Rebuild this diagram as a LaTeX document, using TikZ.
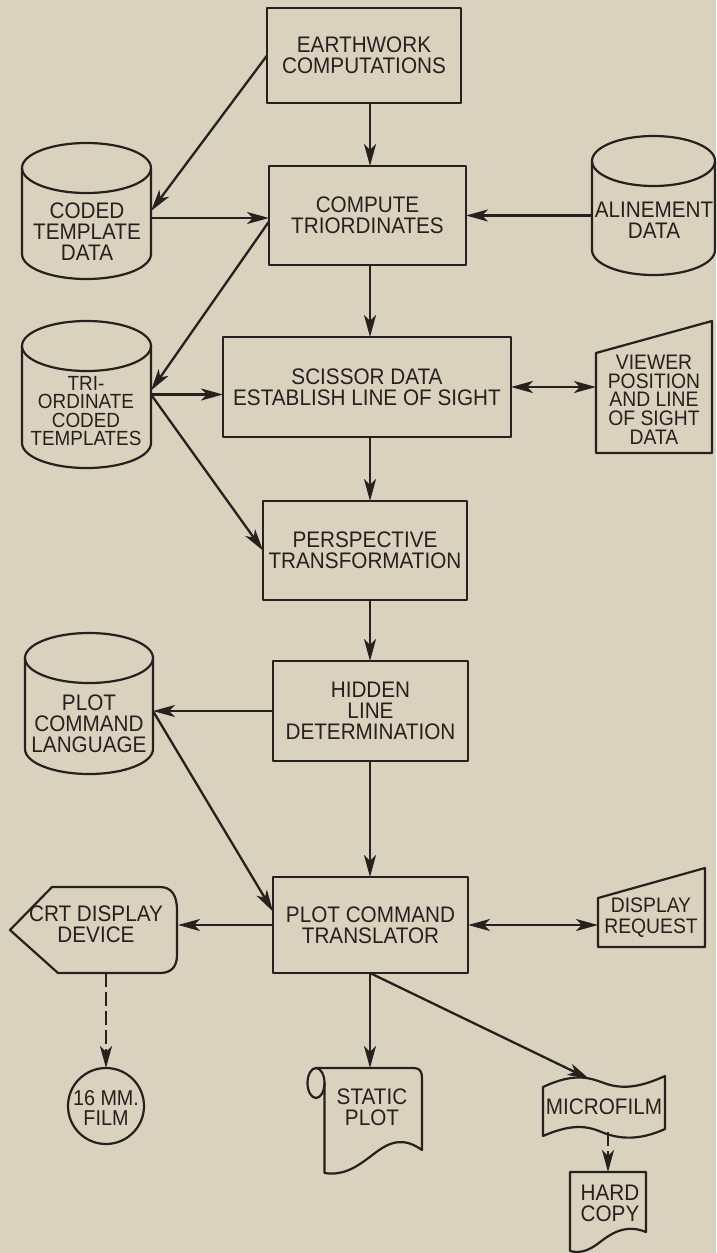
\documentclass[tikz,border=0pt]{standalone}
\usepackage{fontspec}
\setmainfont{Liberation Sans}[FakeStretch=0.92]
\usetikzlibrary{arrows.meta,calc}
\definecolor{paper}{RGB}{217,210,191}
\definecolor{ink}{RGB}{38,33,28}
\newcommand\lbl{\fontsize{22.5}{21}\selectfont}
\newcommand\lblsm{\fontsize{21}{18.7}\selectfont}
\newcommand\cyl[5]{%
  \pgfmathsetmacro\cylcx{(#2+#3)/2}%
  \pgfmathsetmacro\cylrx{(#3-#2)/2}%
  \pgfmathsetmacro\cylt{#4+25}%
  \pgfmathsetmacro\cylb{#5-25}%
  \pgfmathsetmacro\cylw{#3-#2}%
  \pgfmathsetmacro\cylh{#5-#4}%
  \pgfmathsetmacro\cylcy{(#4+#5)/2}%
  \draw[shp] (\cylcx,\cylt) ellipse [x radius=\cylrx pt, y radius=25pt];
  \draw[shp] (#2,\cylt) -- (#2,\cylb) arc [start angle=180, end angle=360, x radius=\cylrx pt, y radius=25pt] -- (#3,\cylt);
  \node[bb,minimum width=\cylw pt,minimum height=\cylh pt] (#1) at (\cylcx,\cylcy) {};
}
\begin{document}
\begin{tikzpicture}[x=1pt,y=-1pt,
  shp/.style={draw=ink,line width=2.2pt,line join=round},
  box/.style={shp,rectangle,inner sep=0pt,outer sep=0pt,align=center,font=\lbl,text=ink},
  txt/.style={align=center,font=\lbl,text=ink,inner sep=0pt},
  bb/.style={rectangle,inner sep=0pt,outer sep=0pt},
  con/.style={draw=ink,line width=2.3pt},
  arr/.style={con,-{Stealth[length=22pt,width=12pt,inset=6pt]}},
  dbl/.style={con,{Stealth[length=22pt,width=12pt,inset=6pt]}-{Stealth[length=22pt,width=12pt,inset=6pt]}},
  dsh/.style={arr,dash pattern=on 14pt off 5pt}]
\fill[paper] (0,0) rectangle (716,1253);
\useasboundingbox (0,0) rectangle (716,1253);
\coordinate (spine) at (370,0);

% process boxes
\node[box,minimum width=194pt,minimum height=95pt] (ew) at (364,55.5) {EARTHWORK\\COMPUTATIONS};
\node[box,minimum width=197pt,minimum height=99pt] (cmp) at (367.5,215.5) {COMPUTE\\TRIORDINATES};
\node[box,minimum width=288pt,minimum height=100pt] (sci) at (367,387) {SCISSOR DATA\\ESTABLISH LINE OF SIGHT};
\node[box,minimum width=204pt,minimum height=99pt] (per) at (365,550.5) {PERSPECTIVE\\TRANSFORMATION};
\node[box,minimum width=195pt,minimum height=100pt] (hid) at (370.5,711) {HIDDEN\\LINE\\DETERMINATION};
\node[box,minimum width=195pt,minimum height=96pt] (pct) at (370.5,925) {PLOT COMMAND\\TRANSLATOR};

% cylinders
\cyl{ctd}{22}{151}{143}{279}
\node[txt] (ctdt) at (87,232) {CODED\\TEMPLATE\\DATA};
\cyl{tri}{22}{151}{321}{468}
\node[txt,font=\fontsize{20.5}{18.6}\selectfont] (trit) at (86,411) {TRI-\\ORDINATE\\CODED\\TEMPLATES};
\cyl{pcl}{25}{153}{633}{774}
\node[txt] (pclt) at (89,724) {PLOT\\COMMAND\\LANGUAGE};
\cyl{ali}{592}{715}{136}{275}
\node[txt] (alit) at (654,220) {ALINEMENT\\DATA};

% viewer position (manual input)
\draw[shp] (596,353) -- (712,321) -- (712,453) -- (596,453) -- cycle;
\node[bb,minimum width=116pt,minimum height=132pt] (vie) at (654,387) {};
\node[txt,font=\lblsm] (viet) at (654,399.5) {VIEWER\\POSITION\\AND LINE\\OF SIGHT\\DATA};

% display request (manual input)
\draw[shp] (598,898) -- (705,868) -- (705,947) -- (598,947) -- cycle;
\node[bb,minimum width=107pt,minimum height=79pt] (dr) at (651.5,907.5) {};
\node[txt,font=\fontsize{21}{21}\selectfont] (drt) at (651,917.5) {DISPLAY\\REQUEST};

% CRT display
\draw[shp] (10,930) -- (52,887) -- (160,887) .. controls (172,887) and (177,896) .. (177,910) -- (177,955) .. controls (177,967) and (171,973) .. (160,973) -- (58,973) -- cycle;
\node[bb,minimum width=168pt,minimum height=86pt] (crt) at (94,930) {};
\node[txt] (crtt) at (96,924) {CRT DISPLAY\\DEVICE};

% 16 mm film
\node[circle,draw=ink,line width=2.2pt,minimum size=76pt,inner sep=0pt,outer sep=0pt] (fil) at (106,1106) {};
\node[txt,font=\fontsize{21.5}{20}\selectfont] (filt) at (106,1108) {16 MM.\\FILM};

% static plot (paper roll)
\draw[shp] (316,1083) ellipse [x radius=8.5pt, y radius=15pt];
\draw[shp] (316,1068) -- (414,1068) .. controls (420,1068) and (422,1072) .. (422,1078) -- (422,1150)
  .. controls (405,1138) and (392,1140) .. (375,1153) .. controls (358,1166) and (345,1176) .. (324.5,1173) -- (324.5,1083);
\node[bb,minimum width=114pt,minimum height=105pt] (sp) at (365,1120.5) {};
\node[txt] (spt) at (372,1107) {STATIC\\PLOT};

% microfilm (punched tape)
\draw[shp] (543,1087) .. controls (575,1072) and (590,1078) .. (604,1083) .. controls (625,1091) and (645,1085) .. (665,1076)
  -- (665,1129) .. controls (645,1138) and (625,1141) .. (604,1133) .. controls (590,1127) and (575,1122) .. (543,1136) -- cycle;
\node[bb,minimum width=122pt,minimum height=59pt] (mf) at (604,1106.5) {};
\node[txt] (mft) at (604,1107) {MICROFILM};

% hard copy (document)
\draw[shp] (570,1172) -- (646,1172) -- (646,1232) .. controls (622,1222) and (606,1238) .. (596,1245) .. controls (586,1252) and (578,1253) .. (570,1251) -- cycle;
\node[bb,minimum width=76pt,minimum height=80pt] (hc) at (608,1212) {};
\node[txt] (hct) at (610,1203) {HARD\\COPY};

% helper coordinates
\coordinate (a1) at ($(ctd.east)+(0,7)$);
\coordinate (c1) at ($(cmp.west)+(0,6)$);
\coordinate (t1) at ($(tri.east)+(0,-4)$);
\coordinate (p1) at ($(pct.north west)!0.36!(pct.south west)$);
\coordinate (m1) at ($(mf.north west)!0.38!(mf.north east)+(0,2)$);
\coordinate (m2) at ($(mf.south -| hc.north)+(0,-4)$);

% connectors
\draw[arr] (ew.west) -- (ctd.east);
\draw[arr] (ew.south -| spine) -- (cmp.north -| spine);
\draw[arr] (a1) -- (a1 -| cmp.west);
\draw[arr] (c1) -- (t1);
\draw[arr] (cmp.east -| ali.west) -- (cmp.east);
\draw[arr] (cmp.south -| spine) -- (sci.north -| spine);
\draw[arr] (tri.east) -- (tri.east -| sci.west);
\draw[arr] (tri.east) -- (per.west);
\draw[dbl] (sci.east) -- (sci.east -| vie.west);
\draw[arr] (sci.south -| spine) -- (per.north -| spine);
\draw[arr] (per.south -| spine) -- (hid.north -| spine);
\draw[arr] (hid.west) -- (hid.west -| pcl.east);
\draw[arr] (hid.west -| pcl.east) -- (p1);
\draw[arr] (hid.south -| spine) -- (pct.north -| spine);
\draw[arr] (pct.west) -- (pct.west -| crt.east);
\draw[dbl] (pct.east) -- (pct.east -| dr.west);
\draw[dsh] (crt.south -| fil.north) -- (fil.north);
\draw[arr] (pct.south -| spine) -- (sp.north -| spine);
\draw[arr] (pct.south -| spine) -- (m1);
\draw[dsh] (m2) -- (hc.north);
\end{tikzpicture}
\end{document}
